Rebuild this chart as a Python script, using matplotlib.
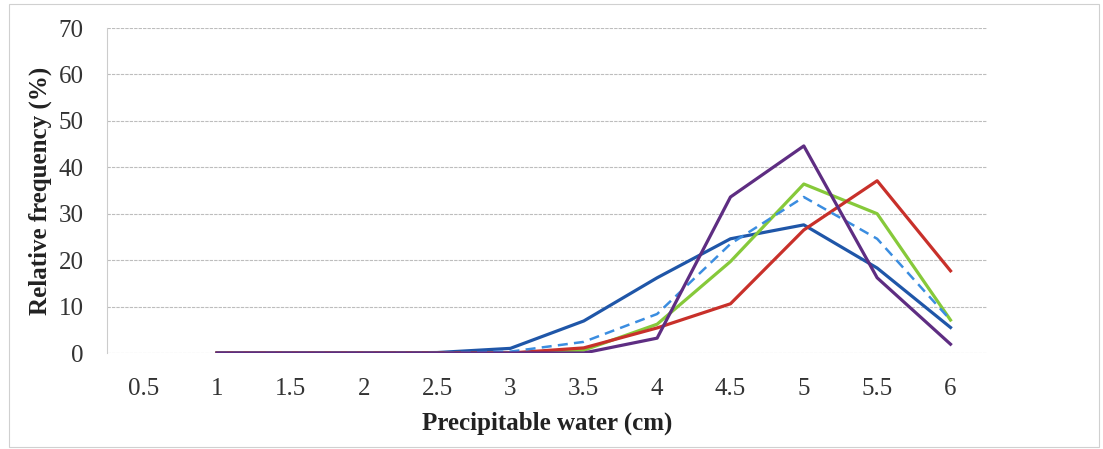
import numpy as np
import matplotlib.pyplot as plt
from matplotlib.patches import Rectangle

# categories on the x axis (precipitable water, cm)
categories = ['0.5', '1', '1.5', '2', '2.5', '3', '3.5', '4', '4.5', '5', '5.5', '6']

# relative frequency (%) per series, starting at category "1"
dark_blue = [0, 0, 0, 0.1, 1.0, 6.9, 16.2, 24.6, 27.6, 18.3, 5.5]
light_blue = [0, 0, 0, 0, 0.3, 2.4, 8.4, 23.5, 33.6, 24.6, 7.1]
green = [0, 0, 0, 0, 0, 0.6, 6.2, 19.7, 36.4, 30.0, 7.1]
red = [0, 0, 0, 0, 0, 1.1, 5.4, 10.6, 26.5, 37.1, 17.7]
purple = [0, 0, 0, 0, 0, 0, 3.2, 33.6, 44.6, 16.2, 1.9]

plt.rcParams['font.family'] = ['Liberation Serif', 'DejaVu Serif']

fig = plt.figure(figsize=(11.03, 4.49), dpi=100)
ax = fig.add_axes([0.097, 0.2138, 0.798, 0.7238])

x = np.arange(1, len(categories))
ax.plot(x, dark_blue, color='#1f56a8', lw=2.3, zorder=3)
ax.plot(x, light_blue, color='#3b8de0', lw=1.8, ls=(0, (4, 2.5)), zorder=4)
ax.plot(x, green, color='#86c93a', lw=2.3, zorder=3)
ax.plot(x, red, color='#c8302a', lw=2.3, zorder=3)
ax.plot(x, purple, color='#5e2d82', lw=2.3, zorder=5)

ax.set_xlim(-0.5, len(categories) - 0.5)
ax.set_ylim(0, 70)
ax.set_xticks(np.arange(len(categories)))
ax.set_xticklabels(categories)
ax.set_yticks(np.arange(0, 71, 10))
ax.tick_params(length=0, labelsize=18, colors='#333333')
ax.tick_params(axis='x', pad=18)
ax.tick_params(axis='y', pad=17)

ax.grid(axis='y', color='#bdbdbd', lw=0.8, ls=(0, (3, 1)))
for s in ['top', 'right', 'bottom']:
    ax.spines[s].set_visible(False)
ax.spines['left'].set_color('#cccccc')
ax.spines['left'].set_linewidth(0.8)

ax.set_xlabel('Precipitable water (cm)', fontsize=18, fontweight='bold', color='#222222', labelpad=8)
ax.set_ylabel('Relative frequency (%)', fontsize=18, fontweight='bold', color='#222222', labelpad=4.5)

# light frame around the chart
fig.patches.append(Rectangle((0.008, 0.004), 0.988, 0.986, transform=fig.transFigure,
                             fill=False, edgecolor='#d0d0d0', lw=0.8))

fig.savefig('out.png', dpi=100)
